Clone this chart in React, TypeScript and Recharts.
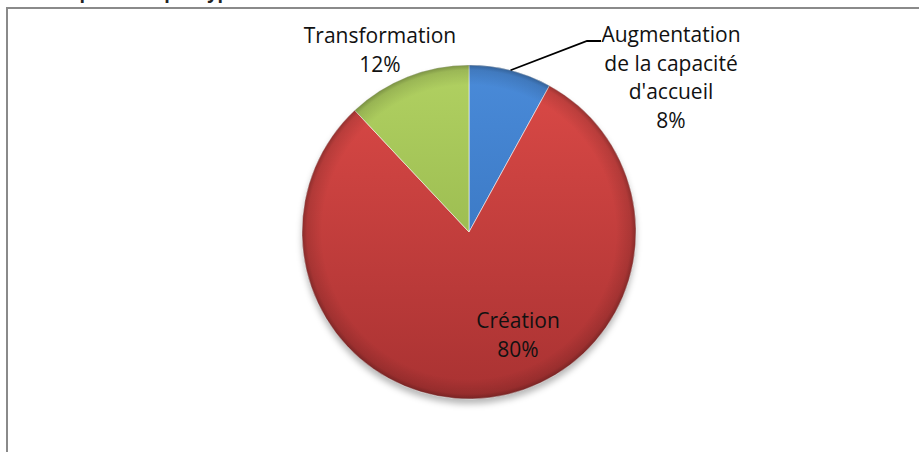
import { PieChart, Pie, Cell } from 'recharts'

// categories + shares (%), clockwise from 12 o'clock
const CATEGORIES = ["Augmentation de la capacité d'accueil", 'Création', 'Transformation']
const SHARES = [8, 80, 12]

const TITLE = 'Répartition par type'

// Excel 2007 palette: blue, red, green
const TOP_COLORS = ['#4a8bd9', '#dc4a47', '#b1d162']
const BOTTOM_COLORS = ['#2f6ab3', '#a93232', '#8aab42']

const FONT = '"Open Sans", "Noto Sans", sans-serif'
const MARGIN = 5 // PieChart default margin, cx/cy are measured inside it
const CX = 469
const CY = 232
const R = 167
const LINE_H = 28.5

// label block position relative to pie centre (first baseline), Excel moved them by hand
const LABEL_LAYOUT = [
  { dx: 202, dy: -190, leader: true },
  { dx: 49, dy: 96, leader: false },
  { dx: -89, dy: -189, leader: false },
]

const data = CATEGORIES.map((name, i) => ({ name, value: SHARES[i] }))

// greedy word wrap, ~14 chars per line like the Excel label box
function wrap(text: string, max = 14) {
  const lines: string[] = []
  let cur = ''
  for (const w of text.split(' ')) {
    const next = cur ? cur + ' ' + w : w
    if (next.length > max && cur) {
      lines.push(cur)
      cur = w
    } else cur = next
  }
  if (cur) lines.push(cur)
  return lines
}

function renderLabel(props: any) {
  const { cx, cy, midAngle, outerRadius, index, name, value } = props
  const lay = LABEL_LAYOUT[index]
  const x = cx + lay.dx
  const y = cy + lay.dy
  const lines = [...wrap(name), `${value}%`]
  const rad = (Math.PI / 180) * midAngle
  const sx = cx + outerRadius * Math.cos(rad)
  const sy = cy - outerRadius * Math.sin(rad)
  return (
    <g key={`lbl-${index}`}>
      {lay.leader && (
        <polyline
          points={`${sx},${sy} ${x - 84},${y - 1} ${x - 70},${y - 1}`}
          fill="none"
          stroke="#000"
          strokeWidth={1.8}
        />
      )}
      <text textAnchor="middle" fontFamily={FONT} fontSize={21} fill="#111">
        {lines.map((l, i) => (
          <tspan key={i} x={x} y={y + i * LINE_H}>
            {l}
          </tspan>
        ))}
      </text>
    </g>
  )
}

export default function App() {
  return (
    <div style={{ position: 'absolute', left: 0, top: 0, width: 919, height: 452, background: '#fff' }}>
      <div
        style={{
          position: 'absolute',
          left: 6,
          top: 7,
          width: 913,
          height: 445,
          borderTop: '2px solid #8a8a8a',
          borderLeft: '2px solid #8a8a8a',
          boxSizing: 'border-box',
        }}
      />
      <svg width={919} height={8} style={{ position: 'absolute', left: 0, top: 0 }}>
        <text x={57} y={-1} fontFamily={FONT} fontWeight="bold" fontSize={18} fill="#222">
          {TITLE}
        </text>
      </svg>
      <div style={{ position: 'absolute', left: 0, top: 0 }}>
        <PieChart width={919} height={452}>
          <defs>
            {TOP_COLORS.map((c, i) => (
              <linearGradient
                key={i}
                id={`fill${i}`}
                gradientUnits="userSpaceOnUse"
                x1={0}
                y1={CY - R}
                x2={0}
                y2={CY + R}
              >
                <stop offset="0%" stopColor={c} />
                <stop offset="100%" stopColor={BOTTOM_COLORS[i]} />
              </linearGradient>
            ))}
            <radialGradient id="rim" gradientUnits="userSpaceOnUse" cx={CX} cy={CY} r={R}>
              <stop offset="88%" stopColor="#000" stopOpacity={0} />
              <stop offset="97%" stopColor="#000" stopOpacity={0.12} />
              <stop offset="100%" stopColor="#000" stopOpacity={0.3} />
            </radialGradient>
            <filter id="blur" x="-20%" y="-20%" width="140%" height="140%">
              <feGaussianBlur stdDeviation={3} />
            </filter>
          </defs>
          {/* soft drop shadow */}
          <Pie
            data={data}
            dataKey="value"
            cx={CX - MARGIN}
            cy={CY - MARGIN + 5}
            outerRadius={R}
            startAngle={90}
            endAngle={-270}
            stroke="none"
            fill="#000"
            fillOpacity={0.28}
            style={{ filter: 'url(#blur)' }}
            isAnimationActive={false}
            legendType="none"
          />
          <Pie
            data={data}
            dataKey="value"
            nameKey="name"
            cx={CX - MARGIN}
            cy={CY - MARGIN}
            outerRadius={R}
            startAngle={90}
            endAngle={-270}
            stroke="rgba(255,255,255,0.55)"
            strokeWidth={1}
            label={renderLabel}
            labelLine={false}
            isAnimationActive={false}
          >
            {data.map((_, i) => (
              <Cell key={i} fill={`url(#fill${i})`} />
            ))}
          </Pie>
          {/* bevel-ish darker rim */}
          <Pie
            data={data}
            dataKey="value"
            cx={CX - MARGIN}
            cy={CY - MARGIN}
            outerRadius={R}
            startAngle={90}
            endAngle={-270}
            stroke="none"
            fill="url(#rim)"
            isAnimationActive={false}
            legendType="none"
          />
        </PieChart>
      </div>
    </div>
  )
}
